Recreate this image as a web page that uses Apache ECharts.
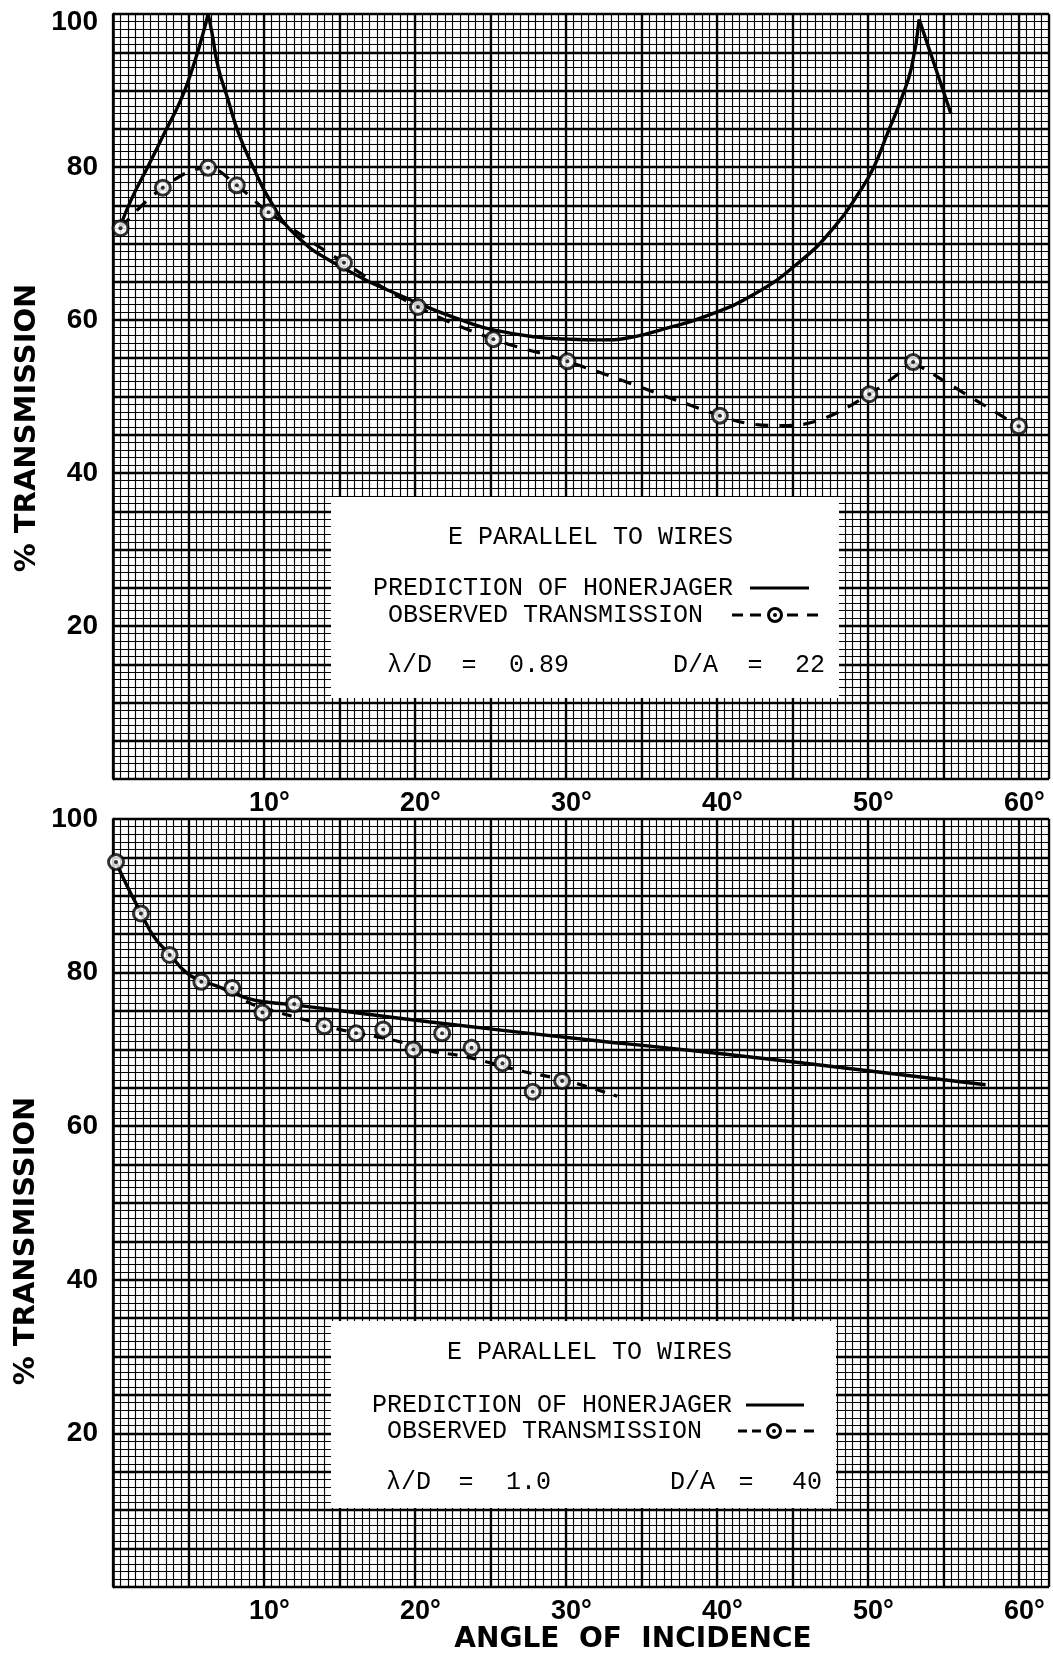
<!DOCTYPE html>
<html><head><meta charset="utf-8">
<script src="https://cdn.jsdelivr.net/npm/echarts@6/dist/echarts.min.js"></script>
<style>html,body{margin:0;padding:0;background:#fff}#c{width:1053px;height:1659px}</style>
</head><body><div id="c"></div>
<script>
// ---- tick labels ----
const xTickLabels = [10, 20, 30, 40, 50, 60];
const yTickLabels = [20, 40, 60, 80, 100];

// ---- upper panel (lambda/D = 0.89, D/A = 22) ----
const honerTopA = [[0.4,71.8],[1.2,75.7],[2.3,80],[3.4,84.4],[4.5,88.8],[5.3,93.1],[5.97,97.5],[6.3,100]];
const honerTopB = [[6.3,100],[6.56,97.5],[6.96,93.1],[7.62,88.8],[8.32,84.4],[9.28,80],[10.38,75.7],[12,71.3],[14.7,67.4],[20.2,62.2],[23.5,59.7],[25.2,58.7],[27.9,57.8],[30.2,57.5],[32.3,57.4],[34.5,57.8],[36.8,59],[39,60.3],[42.4,63.3],[45.6,67.8],[47.8,72.2],[49.4,76.6],[50.4,80],[51.3,84.4],[52.2,88.8],[52.9,93.1],[53.4,99.3]];
const honerTopC = [[53.4,99.3],[55.5,87]];
const obsTopPoints = [[0.5,72],[3.3,77.3],[6.3,79.9],[8.2,77.6],[10.3,74.1],[15.3,67.5],[20.2,61.7],[25.2,57.5],[30.1,54.6],[40.2,47.5],[50.1,50.3],[53,54.5],[60,46.1]];
const obsTopCurveA = [[0.5,72],[3.3,77.3],[6.3,79.9],[8.2,77.6],[10.3,74.1],[15.3,67.5],[20.2,61.7],[25.2,57.5],[30.1,54.6],[40.2,47.5],[42,46.5],[44.1,46.2],[46.6,46.8],[50.1,50.3],[53,54.5]];
const obsTopCurveB = [[53,54.5],[60,46.1]];

// ---- lower panel (lambda/D = 1.0, D/A = 40) ----
const honerBottom = [[0.2,94.4],[0.95,91.2],[1.85,87.8],[2.7,84.7],[3.75,82.4],[4.8,80.1],[5.85,78.9],[6.8,78.3],[7.9,77.4],[9,76.6],[10,76.2],[12,75.8],[20.9,73.6],[32.2,71.1],[36.2,70.3],[45,68.4],[57.8,65.4]];
const obsBottomPoints = [[0.2,94.4],[1.85,87.7],[3.75,82.3],[5.85,78.8],[7.9,78],[9.9,74.8],[12,75.9],[14,73],[16.1,72.1],[17.9,72.6],[19.9,70],[21.8,72.1],[23.75,70.2],[25.8,68.2],[27.8,64.5],[29.75,65.9]];
const obsBottomCurve = [[7.9,78],[9,76.1],[11,74.8],[13.2,73.6],[15,72.6],[19,71],[21,69.8],[23,69.2],[24.5,68.5],[27,67.2],[29,66.4],[31,65.4],[33.4,63.9]];

const INK = '#000';
const chart = echarts.init(document.getElementById('c'), null, {renderer: 'canvas'});

function heavyX(gi) {
  return {
    gridIndex: gi, type: 'value', min: 0, max: 62, interval: 5, position: 'bottom', z: 2,
    axisLine: {show: false}, axisTick: {show: false},
    axisLabel: {
      margin: 11, color: INK, fontFamily: '"Liberation Sans", Arial, sans-serif', fontWeight: 'bold', fontSize: 27,
      padding: [0, 0, 0, 11],
      formatter: v => xTickLabels.includes(v) ? v + '°' : ''
    },
    splitLine: {show: true, lineStyle: {color: INK, width: 2.3}}
  };
}
function fineX(gi) {
  return {
    gridIndex: gi, type: 'value', min: 0, max: 62, interval: 0.5, position: 'bottom', z: 1,
    axisLine: {show: false}, axisTick: {show: false}, axisLabel: {show: false},
    splitLine: {show: true, lineStyle: {color: INK, width: 1.15}}
  };
}
function yAx(gi, topShift) {
  return {
    gridIndex: gi, type: 'value', min: 0, max: 100, interval: 5, z: 2,
    axisLine: {show: true, lineStyle: {color: INK, width: 2.6}}, axisTick: {show: false},
    axisLabel: {
      margin: 15, color: INK, fontFamily: '"Liberation Sans", Arial, sans-serif', fontWeight: 'bold', fontSize: 28,
      formatter: v => yTickLabels.includes(v) ? (v === 100 && topShift ? '{t|100}' : String(v)) : '',
      rich: {t: {padding: [17, 0, 0, 0], color: INK, fontFamily: '"Liberation Sans", Arial, sans-serif', fontWeight: 'bold', fontSize: 28}}
    },
    splitLine: {show: true, lineStyle: {color: INK, width: 2.3}},
    minorTick: {show: false, splitNumber: 5},
    minorSplitLine: {show: true, lineStyle: {color: INK, width: 1.15}}
  };
}
function solid(data, xi, yi) {
  return {type: 'line', data, xAxisIndex: xi, yAxisIndex: yi, showSymbol: false, smooth: 0.5, z: 3,
    lineStyle: {color: INK, width: 3.4}, silent: true};
}
function dashed(data, xi, yi, dash) {
  return {type: 'line', data, xAxisIndex: xi, yAxisIndex: yi, showSymbol: false, smooth: 0.4, z: 3,
    lineStyle: {color: INK, width: 3.2, type: dash}, silent: true};
}
function rings(data, xi, yi) {
  return {type: 'scatter', data, xAxisIndex: xi, yAxisIndex: yi, symbol: 'circle', symbolSize: 15, z: 5,
    itemStyle: {color: '#fff', borderColor: INK, borderWidth: 3}, silent: true};
}
function dots(data, xi, yi) {
  return {type: 'scatter', data, xAxisIndex: xi, yAxisIndex: yi, symbol: 'circle', symbolSize: 4, z: 6,
    itemStyle: {color: INK}, silent: true};
}

const mono = '25px "Liberation Mono", "DejaVu Sans Mono", monospace';
function txt(text, x, y, align) {
  return {type: 'text', x, y, z: 60, silent: true,
    style: {text, font: mono, fill: INK, align: align || 'left', verticalAlign: 'middle'}};
}
function hline(x1, x2, y, dash) {
  return {type: 'line', z: 60, silent: true, shape: {x1, y1: y, x2, y2: y},
    style: {stroke: INK, lineWidth: 2.8, lineDash: dash || null}};
}
function legendRing(cx, cy) {
  return [
    {type: 'circle', z: 61, silent: true, shape: {cx, cy, r: 6.5}, style: {fill: '#fff', stroke: INK, lineWidth: 3}},
    {type: 'circle', z: 62, silent: true, shape: {cx, cy, r: 2}, style: {fill: INK}}
  ];
}

const graphics = [
  // legend boxes
  {type: 'rect', z: 50, silent: true, shape: {x: 331, y: 497, width: 508, height: 201}, style: {fill: '#fff'}},
  {type: 'rect', z: 50, silent: true, shape: {x: 331, y: 1321, width: 505, height: 187}, style: {fill: '#fff'}},
  // upper legend
  txt('E PARALLEL TO WIRES', 448, 537),
  txt('PREDICTION OF HONERJAGER', 373, 588),
  hline(750, 809, 588),
  txt('OBSERVED TRANSMISSION', 388, 615),
  hline(732, 762, 615, [11, 7]),
  hline(787, 823, 615, [11, 9]),
  ...legendRing(775, 615),
  txt('λ/D', 387, 665), txt('=', 469, 665, 'center'), txt('0.89', 509, 665),
  txt('D/A', 673, 665), txt('=', 755, 665, 'center'), txt('22', 795, 665),
  // lower legend
  txt('E PARALLEL TO WIRES', 447, 1352),
  txt('PREDICTION OF HONERJAGER', 372, 1405),
  hline(746, 804, 1405),
  txt('OBSERVED TRANSMISSION', 387, 1431),
  hline(738, 761, 1431, [9, 5]),
  hline(786, 820, 1431, [10, 8]),
  ...legendRing(774, 1431),
  txt('λ/D', 386, 1482), txt('=', 466, 1482, 'center'), txt('1.0', 506, 1482),
  txt('D/A', 670, 1482), txt('=', 746, 1482, 'center'), txt('40', 792, 1482),
  // axis titles
  {type: 'text', x: 27, y: 428, rotation: Math.PI / 2, z: 60, silent: true,
    style: {text: '% TRANSMISSION', font: 'bold 29px "DejaVu Sans", sans-serif', fill: INK, align: 'center', verticalAlign: 'middle'}},
  {type: 'text', x: 26, y: 1241, rotation: Math.PI / 2, z: 60, silent: true,
    style: {text: '% TRANSMISSION', font: 'bold 29px "DejaVu Sans", sans-serif', fill: INK, align: 'center', verticalAlign: 'middle'}},
  {type: 'text', x: 633, y: 1640, z: 60, silent: true,
    style: {text: 'ANGLE  OF  INCIDENCE', font: 'bold 28px "DejaVu Sans", sans-serif', fill: INK, align: 'center', verticalAlign: 'middle'}}
];

chart.setOption({
  animation: false,
  backgroundColor: '#fff',
  grid: [
    {left: 113, top: 14, width: 936, height: 765, containLabel: false},
    {left: 113, top: 819, width: 936, height: 768, containLabel: false}
  ],
  xAxis: [heavyX(0), fineX(0), heavyX(1), fineX(1)],
  yAxis: [yAx(0, true), yAx(1, false)],
  series: [
    solid(honerTopA, 0, 0), solid(honerTopB, 0, 0), solid(honerTopC, 0, 0),
    dashed(obsTopCurveA, 0, 0, [13, 11]), dashed(obsTopCurveB, 0, 0, [13, 11]),
    rings(obsTopPoints, 0, 0), dots(obsTopPoints, 0, 0),
    solid(honerBottom, 2, 1),
    dashed(obsBottomCurve, 2, 1, [10, 9]),
    rings(obsBottomPoints, 2, 1), dots(obsBottomPoints, 2, 1)
  ],
  graphic: graphics
});
</script></body></html>
